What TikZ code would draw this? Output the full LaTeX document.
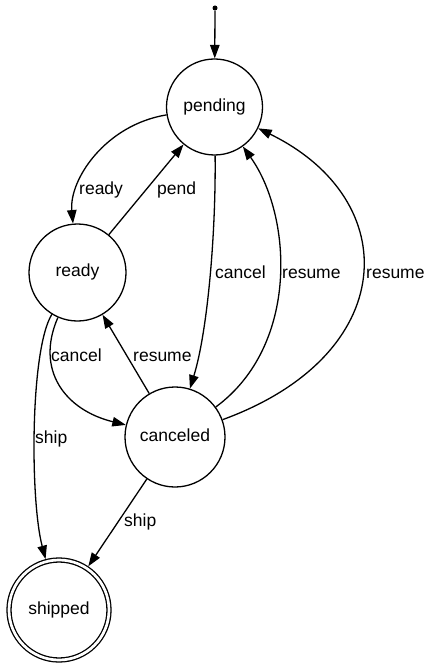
\documentclass[tikz,border=0pt]{standalone}
\usepackage{fontspec}
\setmainfont{Liberation Sans}
\usetikzlibrary{arrows.meta}
\begin{document}
\begin{tikzpicture}[x=1pt,y=-1pt,
  state/.style={circle,draw,line width=1.3pt,inner sep=0pt,font=\fontsize{17.5}{21}\selectfont,text height=12.6pt,text depth=3.7pt},
  edge/.style={line width=1.3pt,-{Triangle[length=13.5pt,width=9.5pt]}},
  lbl/.style={anchor=base west,inner sep=0pt,font=\fontsize{17.5}{21}\selectfont}]
\fill[white] (0,0) rectangle (432,668);
\useasboundingbox (0,0) rectangle (432,668);
% states
\node[circle,fill,inner sep=0pt,minimum size=5pt] (start) at (215,8) {};
\node[state,minimum size=96pt] (pending) at (214.5,107) {pending};
\node[state,minimum size=97pt] (ready) at (77.5,272.5) {ready};
\node[state,minimum size=100pt] (canceled) at (175,437) {canceled};
\node[state,minimum size=100pt,double,double distance=2.7pt,outer sep=2.65pt] (shipped) at (59,610) {shipped};
% transitions
\draw[edge] (start) -- (pending);
\draw[edge] (pending) .. controls (105,125) and (69,180) .. (ready);
\draw[edge] (ready) -- (pending);
\draw[edge] (pending) .. controls (216,230) and (208,330) .. (canceled);
\draw[edge] (canceled) -- (ready);
\draw[edge] (canceled) .. controls (300,345) and (292,215) .. (pending);
\draw[edge] (canceled) .. controls (400,355) and (405,200) .. (pending);
\draw[edge] (ready) .. controls (35,370) and (65,410) .. (canceled);
\draw[edge] (ready) .. controls (30,350) and (30,500) .. (shipped);
\draw[edge] (canceled) -- (shipped);
% labels
\node[lbl] (lready) at (79,195) {ready};
\node[lbl] (lpend) at (157,195) {pend};
\node[lbl] (lcancelA) at (215,278) {cancel};
\node[lbl] (lresumeA) at (282,278) {resume};
\node[lbl] (lresumeB) at (366,278) {resume};
\node[lbl] (lcancelB) at (51,361) {cancel};
\node[lbl] (lresumeC) at (133,361) {resume};
\node[lbl] (lshipA) at (35,443) {ship};
\node[lbl] (lshipB) at (124,526) {ship};
\end{tikzpicture}
\end{document}
